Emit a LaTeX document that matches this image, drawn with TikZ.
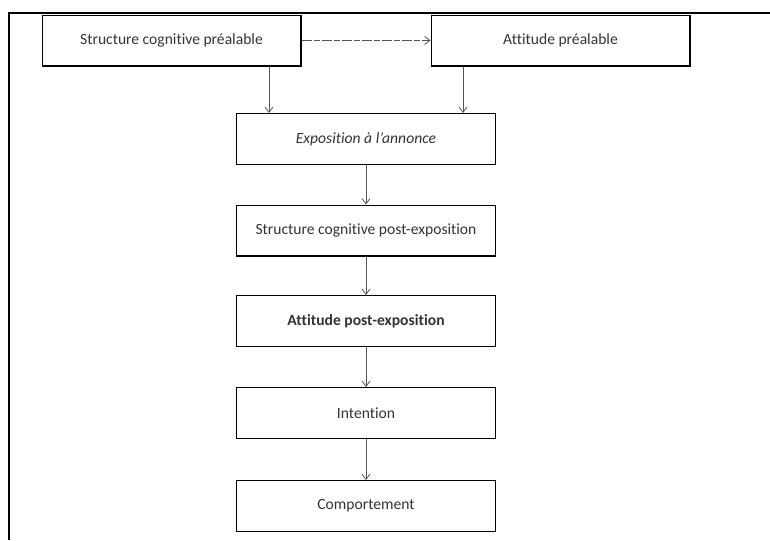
\documentclass[tikz,border=0pt]{standalone}
\usepackage{fontspec}
\setmainfont{Carlito}[Ligatures=NoCommon]
\usepackage{xcolor}
\usetikzlibrary{arrows.meta,positioning,calc}
\definecolor{txtgray}{HTML}{333333}
\definecolor{arrgray}{HTML}{555555}
\tikzset{
  etape/.style={draw=black, line width=1pt, minimum width=194pt, minimum height=38pt,
    font=\fontsize{11.7}{14}\selectfont, text=txtgray, inner sep=2pt},
  fleche/.style={-{Straight Barb[length=4pt,width=6pt]}, draw=arrgray, line width=0.6pt}
}

\begin{document}
\begin{tikzpicture}[x=0.75pt, y=-0.75pt, >=Latex]
  \useasboundingbox (0,0) rectangle (770,540);
  % cadre
  \draw[line width=1.2pt] (9,540) -- (9,13) -- (770,13);
  % boites
  \node[etape] (scpre) at (171.5,40.5) {Structure cognitive préalable};
  \node[etape] (attpre) at (560.5,40.5) {Attitude préalable};
  \node[etape] (expo) at (366,139) {\itshape Exposition à l’annonce};
  \node[etape] (scpost) at (366,230.5) {Structure cognitive post-exposition};
  \node[etape] (attpost) at (366,321) {\bfseries Attitude post-exposition};
  \node[etape] (inten) at (366,413) {Intention};
  \node[etape] (comp) at (366,506) {Comportement};
  % fleches
  \draw[fleche, dash pattern=on 8pt off 1.5pt on 4pt off 1.5pt] (scpre.east) -- (attpre.west);
  \draw[fleche] ([xshift=73.1pt]scpre.south) -- ([xshift=73.1pt]scpre.south |- expo.north);
  \draw[fleche] ([xshift=-73.1pt]attpre.south) -- ([xshift=-73.1pt]attpre.south |- expo.north);
  \draw[fleche] (expo) -- (scpost);
  \draw[fleche] (scpost) -- (attpost);
  \draw[fleche] (attpost) -- (inten);
  \draw[fleche] (inten) -- (comp);
\end{tikzpicture}
\end{document}
